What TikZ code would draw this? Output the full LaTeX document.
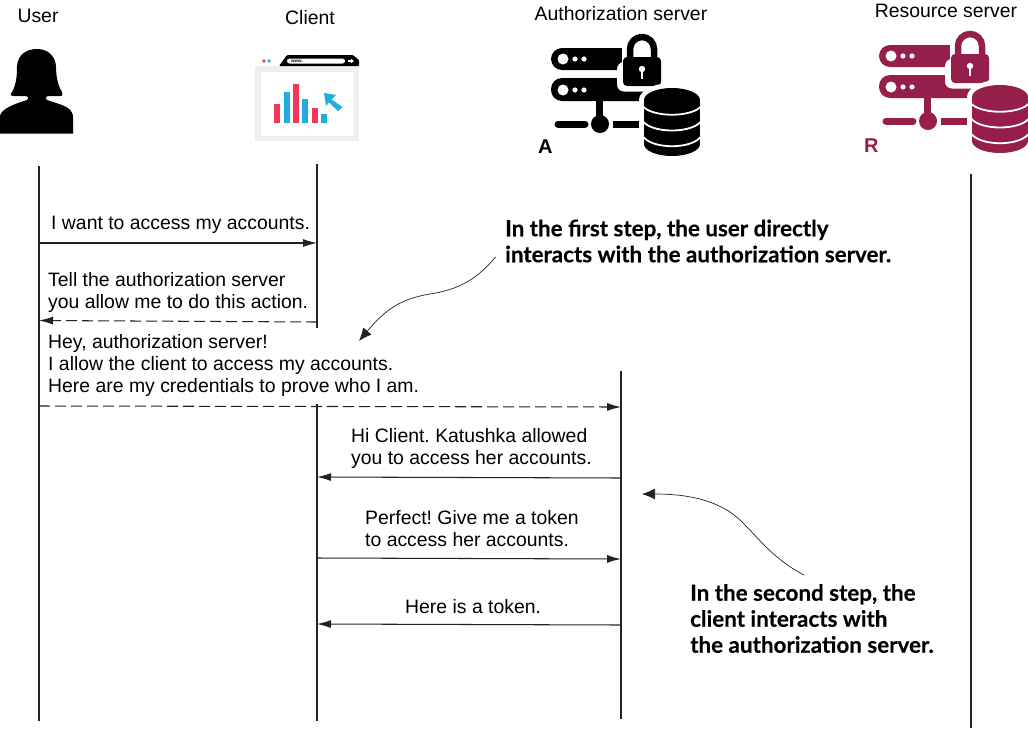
\documentclass[tikz,border=0pt]{standalone}
\usepackage{fontspec}
\setmainfont{Liberation Sans}
\newfontfamily\calloutfont[BoldFont=Lato Bold,BoldFeatures={FakeBold=0.25}]{Lato}
\usetikzlibrary{arrows.meta}
\definecolor{resred}{HTML}{951F4A}
\definecolor{barred}{HTML}{F0385A}
\definecolor{barblue}{HTML}{22ADE0}
\definecolor{panelgray}{HTML}{EEEEEE}
\definecolor{inkgray}{HTML}{222222}
\tikzset{
  title/.style={font=\fontsize{19.4}{22}\selectfont,inner sep=0pt,text=black},
  msg/.style={font=\frenchspacing\fontsize{19.4}{22}\selectfont,inner sep=0pt,align=left,anchor=west,text=black},
  callout/.style={font=\calloutfont\bfseries\fontsize{22.4}{26}\selectfont,inner sep=0pt,align=left,anchor=west,text=black},
  lifeline/.style={draw=inkgray,line width=1.05pt},
  solidmsg/.style={draw=inkgray,line width=1.05pt,-{Latex[length=14pt,width=8pt]}},
  dashmsg/.style={draw=inkgray,line width=1.05pt,dash pattern=on 11pt off 5pt,-{Latex[length=14pt,width=8pt]}},
  note/.style={draw=inkgray,line width=0.7pt,-{Latex[length=13pt,width=11pt]}},
}
\newcommand{\servericon}[1]{%
  \fill[#1,rounded corners=11pt] (551,48) rectangle (640,70);
  \fill[#1,rounded corners=11pt] (551,78) rectangle (660,101);
  \fill[white] (563,59) circle (5.5) (575,59) circle (2.6) (584,59) circle (2.6);
  \fill[white] (563,90) circle (5.5) (575,90) circle (2.6) (584,90) circle (2.6);
  \draw[#1,line width=7pt] (599,100) -- (599,120);
  \draw[#1,line width=7pt,line cap=round] (558,124) -- (585,124);
  \draw[#1,line width=7pt] (613,124) -- (650,124);
  \fill[#1] (600,124) circle (9);
  % lock
  \fill[white] (621.5,44) rectangle (666,74);
  \fill[white,rounded corners=7pt] (617,62) rectangle (667,91.5);
  \fill[#1,rounded corners=4pt] (623,57) rectangle (661,86);
  \draw[#1,line width=6.5pt] (630,60) -- (630,49) arc[start angle=180,end angle=360,radius=12] -- (654,60);
  \fill[white] (642,69) circle (3.2);
  \fill[white] (640.6,69) rectangle (643.4,79);
  % database
  \fill[white] (672,100) ellipse (33 and 17);
  \fill[white] (639,100) rectangle (705,145);
  \fill[white] (672,145) ellipse (33 and 16);
  \fill[#1] (644,100) rectangle (700,144);
  \fill[#1] (672,100) ellipse (28 and 12);
  \fill[#1] (672,144) ellipse (28 and 12);
  \draw[white,line width=1.8pt] (642,105) .. controls (650,118) and (694,118) .. (702,105);
  \draw[white,line width=1.8pt] (642,120) .. controls (650,134) and (694,134) .. (702,120);
  \draw[white,line width=1.8pt] (642,135) .. controls (650,150) and (694,150) .. (702,135);
}
\begin{document}
\begin{tikzpicture}[x=1pt,y=-1pt]
\useasboundingbox (0,0) rectangle (1028,729);
% titles
\node[title] (tuser) at (38,16) {User};
\node[title] (tclient) at (310,18) {Client};
\node[title] (tauth) at (621,14) {Authorization server};
\node[title] (tres) at (946,11) {Resource server};
% user icon
\fill[black] (0,133.5) -- (0,116) .. controls (1,109) and (14,104) .. (27,100)
  .. controls (29,99) and (29,97) .. (26,96) -- (14,96)
  .. controls (10,96) and (10,94) .. (12,92)
  .. controls (17,84) and (17,72) .. (17,66)
  .. controls (18,54) and (27,49) .. (37,49)
  .. controls (47,49) and (55,55) .. (56,66)
  .. controls (56,74) and (57,84) .. (62,92)
  .. controls (63,94) and (63,96) .. (60,96) -- (48,96)
  .. controls (45,97) and (45,99) .. (47,100)
  .. controls (58,104) and (72,106) .. (73,116) -- (73,133.5) -- cycle;
% client icon
\fill[panelgray] (255,66) rectangle (359,141);
\fill[white] (260.5,71.5) rectangle (354,136);
\fill[black,rounded corners=1pt] (279,66) -- (287,55) -- (353,55) -- (359,60) -- (359,66) -- cycle;
\fill[white,rounded corners=2.5pt] (287,58.5) rectangle (345,63.5);
\node[inner sep=0pt,font=\bfseries\fontsize{4.5}{5}\selectfont] (www) at (297,61) {www.};
\fill[white] (348,60.3) rectangle (351,61.7);
\fill[white] (351,58.8) -- (354,61) -- (351,63.2) -- cycle;
\fill[barred] (264,61) circle (1.8);
\fill[barblue] (269,61) circle (1.8);
\fill[barred] (274,104) rectangle (280,123);
\fill[barblue] (283.5,91.5) rectangle (289.5,123);
\fill[barred] (293,84) rectangle (299,123);
\fill[barblue] (302,99) rectangle (308,123);
\fill[barred] (311.5,107.5) rectangle (317.5,123);
\fill[barblue] (321,114) rectangle (327,123);
\fill[barblue] (324,93) -- (336,95) -- (331.5,99.5) -- (342.5,107) -- (338,111) -- (329,102.5) -- (326,106) -- cycle;
% servers
\servericon{black}
\node[inner sep=0pt,anchor=base west,font=\bfseries\fontsize{20}{22}\selectfont] (labA) at (538,153) {A};
\begin{scope}[shift={(328,-3)}]
\servericon{resred}
\end{scope}
\node[inner sep=0pt,anchor=base west,text=resred,font=\bfseries\fontsize{20}{22}\selectfont] (labR) at (864,152.5) {R};
% lifeline coordinates
\coordinate (u0) at (39,166);
\coordinate (u1) at (39,721);
\coordinate (c0) at (317,164);
\coordinate (c1) at (317,328);
\coordinate (c2) at (317,404);
\coordinate (c3) at (317,721);
\coordinate (a0) at (621,371);
\coordinate (a1) at (621,719);
\coordinate (r0) at (971,174);
\coordinate (r1) at (971,728);
\draw[lifeline] (u0) -- (u1);
\draw[lifeline] (c0) -- (c1);
\draw[lifeline] (c2) -- (c3);
\draw[lifeline] (a0) -- (a1);
\draw[lifeline] (r0) -- (r1);
% messages
\node[msg] (m1) at (51,225) {I want to access my accounts.};
\node[msg] (m2) at (48,292.5) {Tell the authorization server\\you allow me to do this action.};
\node[msg] (m3) at (48,365.5) {Hey, authorization server!\\I allow the client to access my accounts.\\Here are my credentials to prove who I am.};
\node[msg] (m4) at (351,448.5) {Hi Client. Katushka allowed\\you to access her accounts.};
\node[msg] (m5) at (365,529) {Perfect! Give me a token\\to access her accounts.};
\node[msg] (m6) at (405,607) {Here is a token.};
\coordinate (s1) at (38,243); \coordinate (e1) at (317,243);
\coordinate (s2) at (317,322); \coordinate (e2) at (39,320.5);
\coordinate (s3) at (39,406); \coordinate (e3) at (621,407);
\coordinate (s4) at (621,478); \coordinate (e4) at (317,477);
\coordinate (s5) at (317,558); \coordinate (e5) at (621,559);
\coordinate (s6) at (621,625); \coordinate (e6) at (317,624);
\draw[solidmsg] (s1) -- (e1);
\draw[dashmsg] (s2) -- (e2);
\draw[dashmsg] (s3) -- (e3);
\draw[solidmsg] (s4) -- (e4);
\draw[solidmsg] (s5) -- (e5);
\draw[solidmsg] (s6) -- (e6);
% callouts
\node[callout] (n1) at (505,241) {In the first step, the user directly\\interacts with the authorization server.};
\node[callout] (n2) at (690,618.5) {In the second step, the\\client interacts with\\the authorization server.};
\coordinate (ns1) at (495.5,257); \coordinate (ne1) at (359,341);
\coordinate (ns2) at (804,575); \coordinate (ne2) at (642,494);
\draw[note] (ns1) .. controls (475,282) and (455,290) .. (430,294) .. controls (400,299) and (385,310) .. (ne1);
\draw[note] (ns2) .. controls (775,560) and (760,540) .. (745,525) .. controls (725,503) and (695,494) .. (ne2);
\end{tikzpicture}
\end{document}
